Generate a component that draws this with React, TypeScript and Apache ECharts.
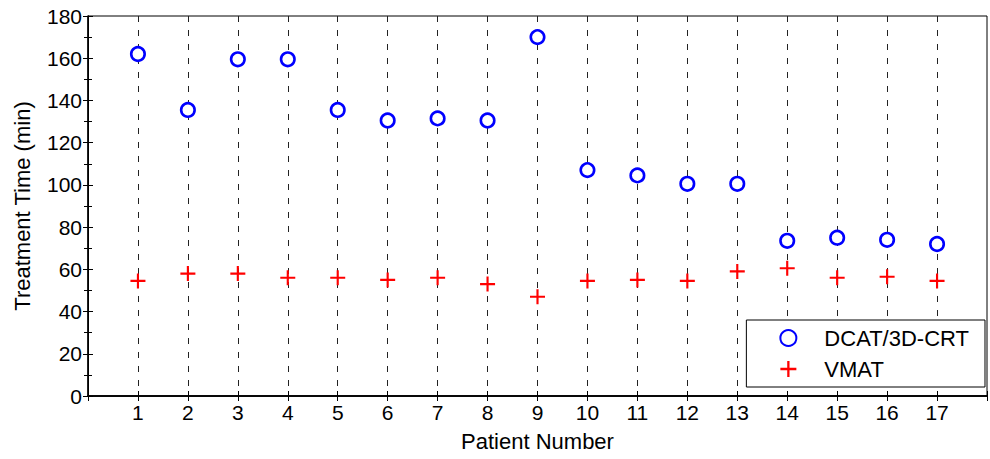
import React, { useEffect, useRef } from "react";
import * as echarts from "echarts";

const patients = [1, 2, 3, 4, 5, 6, 7, 8, 9, 10, 11, 12, 13, 14, 15, 16, 17];
const dcatValues = [162, 135.5, 159.5, 159.5, 135.5, 130.5, 131.5, 130.5, 170, 107, 104.5, 100.5, 100.5, 73.5, 75, 74, 72];
const vmatValues = [54.5, 58, 58, 56, 56, 55, 56, 53, 47, 54.5, 55, 54.5, 59, 60.5, 56, 56.5, 54.5];
const seriesNames = ["DCAT/3D-CRT", "VMAT"];

const plusPath =
  "path://M-1,-7 L1,-7 L1,-1 L7,-1 L7,1 L1,1 L1,7 L-1,7 L-1,1 L-7,1 L-7,-1 L-1,-1 Z";

export default function App() {
  const ref = useRef<HTMLDivElement>(null);
  useEffect(() => {
    document.body.style.margin = "0";
    const chart = echarts.init(ref.current!, null, { renderer: "svg" });
    const font = "Liberation Sans, Arial, sans-serif";
    chart.setOption({
      animation: false,
      backgroundColor: "#fff",
      textStyle: { fontFamily: font },
      grid: {
        left: 88,
        top: 16,
        width: 905,
        height: 380,
        show: true,
        borderColor: "#000",
        borderWidth: 1,
        backgroundColor: "transparent",
      },
      legend: {
        right: 5,
        top: 320,
        orient: "vertical",
        backgroundColor: "#fff",
        borderColor: "#000",
        borderWidth: 1,
        borderRadius: 0,
        padding: [7, 16, 7, 33],
        itemGap: 9,
        itemWidth: 16,
        itemHeight: 16,
        textStyle: { fontSize: 22, color: "#000", fontFamily: font, padding: [0, 0, 0, 23] },
        data: seriesNames,
      },
      xAxis: [
        {
          type: "value",
          min: 0,
          max: 18,
          interval: 1,
          name: "Patient Number",
          nameLocation: "middle",
          nameGap: 34,
          nameTextStyle: { fontSize: 22, color: "#000", fontFamily: font },
          axisLine: { show: true, lineStyle: { color: "#000", width: 1.5 } },
          axisTick: { show: true, inside: true, length: 5, lineStyle: { color: "#000" } },
          axisLabel: {
            fontSize: 21,
            color: "#000",
            fontFamily: font,
            margin: 6,
            formatter: (v: number) => (patients.includes(v) ? String(v) : ""),
          },
          splitLine: {
            show: true,
            showMinLine: false,
            showMaxLine: false,
            lineStyle: { color: "#222", type: [6, 8], width: 1 },
          },
        },
        {
          type: "value",
          position: "top",
          min: 0,
          max: 18,
          interval: 1,
          axisLine: { show: true, lineStyle: { color: "#000", width: 1.5 } },
          axisTick: { show: true, inside: true, length: 5, lineStyle: { color: "#000" } },
          axisLabel: { show: false },
          splitLine: { show: false },
        },
      ],
      yAxis: [
        {
          type: "value",
          min: 0,
          max: 180,
          interval: 20,
          name: "Treatment Time (min)",
          nameLocation: "middle",
          nameGap: 55,
          nameTextStyle: { fontSize: 22, color: "#000", fontFamily: font },
          axisLine: { show: true, lineStyle: { color: "#000", width: 1.5 } },
          axisTick: { show: true, inside: true, length: 5, lineStyle: { color: "#000" } },
          minorTick: { show: true, splitNumber: 2, length: 4, lineStyle: { color: "#000" } },
          axisLabel: { fontSize: 21, color: "#000", fontFamily: font, margin: 6 },
          splitLine: { show: false },
        },
        {
          type: "value",
          position: "right",
          min: 0,
          max: 180,
          interval: 20,
          axisLine: { show: true, lineStyle: { color: "#000" } },
          axisTick: { show: true, inside: true, length: 5, lineStyle: { color: "#000" } },
          minorTick: { show: true, splitNumber: 2, length: 4, lineStyle: { color: "#000" } },
          axisLabel: { show: false },
          splitLine: { show: false },
        },
      ],
      series: [
        {
          name: seriesNames[0],
          type: "scatter",
          symbol: "circle",
          symbolSize: 13.5,
          itemStyle: { color: "#fff", borderColor: "#0000ff", borderWidth: 2.6, opacity: 1 },
          data: patients.map((p, i) => [p, dcatValues[i]]),
          z: 5,
        },
        {
          name: seriesNames[1],
          type: "scatter",
          symbol: plusPath,
          symbolSize: 15,
          itemStyle: { color: "#ff0000", opacity: 1 },
          data: patients.map((p, i) => [p, vmatValues[i]]),
          z: 5,
        },
      ],
    });
    return () => chart.dispose();
  }, []);
  return (
    <div
      ref={ref}
      style={{ position: "fixed", left: 0, top: 0, width: 990, height: 459 }}
    />
  );
}
